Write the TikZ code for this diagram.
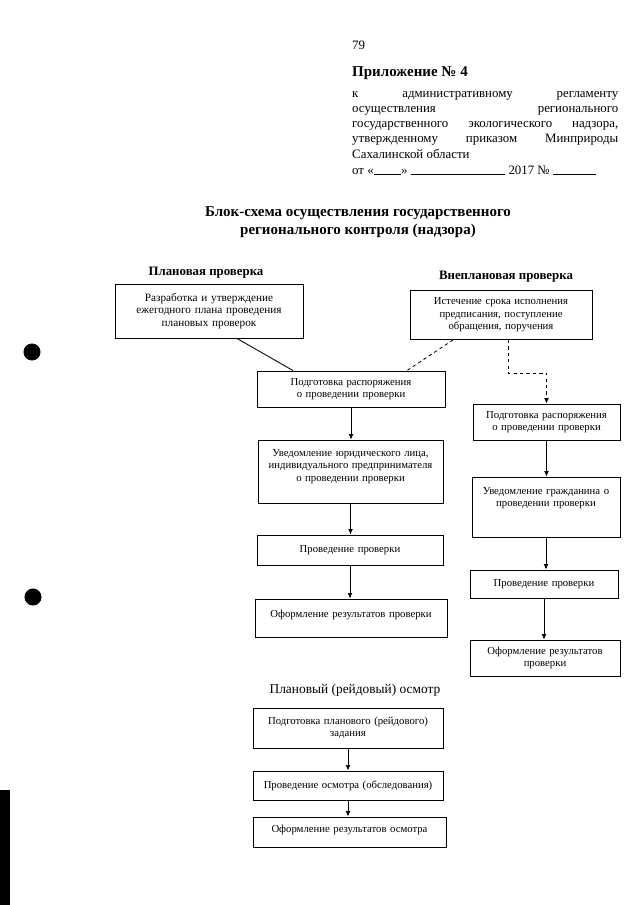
\documentclass[tikz,border=0pt]{standalone}
\usepackage{fontspec}
\setmainfont{Liberation Serif}
\usepackage{tikz}
\usetikzlibrary{arrows.meta}
\newcommand\pxu{0.328mm}

\begin{document}
\begin{tikzpicture} [x=0.328mm, y=-0.328mm, every node/.style={inner sep=0pt}]
\tikzstyle{box}=[draw, line width=0.9pt, align=center, font=\fontsize{10}{11.6}\selectfont]
\tikzstyle{head}=[font=\bfseries\fontsize{12}{14}\selectfont]
\tikzstyle{link}=[line width=0.8pt]
\tikzstyle{tip}=[-{Latex[length=5pt,width=4.5pt]}]
\useasboundingbox (0,0) rectangle (640,905);

\node [anchor=west, font=\fontsize{12}{14}\selectfont] (page) at (352,45) {79};
\node [anchor=west, font=\bfseries\fontsize{14}{16}\selectfont] (app) at (352,73) {Приложение № 4};
\node [anchor=north west, text width=266*\pxu, align=justify, font=\fontsize{12}{14.2}\selectfont] (regl) at (352,91)
  {к административному регламенту\linebreak
   осуществления регионального\linebreak
   государственного экологического надзора,\linebreak
   утвержденному приказом Минприроды\linebreak
   Сахалинской области};
\node [anchor=west, font=\fontsize{12}{14}\selectfont] (date) at (352,170)
  {от «\rule{0.9cm}{0.4pt}» \rule{3.1cm}{0.4pt} 2017 № \rule{1.4cm}{0.4pt}};

\node [align=center, font=\bfseries\fontsize{14}{16.6}\selectfont] (title) at (358,222)
  {Блок-схема осуществления государственного\\ регионального контроля (надзора)};

\node [head] (planhead) at (206,273) {Плановая проверка};
\node [head] (unplanhead) at (506,277) {Внеплановая проверка};

\node [box, minimum width=188*\pxu, minimum height=54*\pxu, text width=180*\pxu, font=\fontsize{10.5}{11.8}\selectfont] (plan) at (209,311)
  {Разработка и утверждение\\ ежегодного плана проведения\\ плановых проверок};
\node [box, minimum width=182*\pxu, minimum height=49*\pxu, text width=176*\pxu] (unplan) at (501,315)
  {Истечение срока исполнения\\ предписания, поступление\\ обращения, поручения};

\node [box, minimum width=188*\pxu, minimum height=36*\pxu, text width=180*\pxu] (prepL) at (351,389)
  {Подготовка распоряжения\\ о проведении проверки};
\node [box, minimum width=185*\pxu, minimum height=63*\pxu, text width=180*\pxu] (notifyL) at (350.5,471.5)
  {Уведомление юридического лица,\\ индивидуального предпринимателя\\ о проведении проверки\\ \mbox{}};
\node [box, minimum width=186*\pxu, minimum height=30*\pxu, text width=180*\pxu] (conductL) at (350,550)
  {Проведение проверки};
\node [box, minimum width=192*\pxu, minimum height=38*\pxu, text width=186*\pxu] (resultL) at (351,618)
  {Оформление результатов проверки\\[-4pt] \mbox{}};

\node [box, minimum width=147*\pxu, minimum height=36*\pxu, text width=141*\pxu] (prepR) at (546.5,422)
  {Подготовка распоряжения\\ о проведении проверки};
\node [box, minimum width=148*\pxu, minimum height=60*\pxu, text width=142*\pxu] (citizen) at (546,507)
  {Уведомление гражданина о\\ проведении проверки\\[7pt] \mbox{}};
\node [box, minimum width=148*\pxu, minimum height=28*\pxu, text width=142*\pxu] (conductR) at (544,584)
  {Проведение проверки};
\node [box, minimum width=150*\pxu, minimum height=36*\pxu, text width=144*\pxu] (resultR) at (545,658)
  {Оформление результатов\\ проверки};

\node [font=\fontsize{12.5}{14}\selectfont] (raidhead) at (355,690) {Плановый (рейдовый) осмотр};
\node [box, minimum width=190*\pxu, minimum height=40*\pxu, text width=184*\pxu] (task) at (348,728)
  {Подготовка планового (рейдового)\\ задания};
\node [box, minimum width=190*\pxu, minimum height=29*\pxu, text width=184*\pxu] (inspect) at (348,785.5)
  {Проведение осмотра (обследования)};
\node [box, minimum width=193*\pxu, minimum height=30*\pxu, text width=186*\pxu] (report) at (349.5,832)
  {Оформление результатов осмотра\\[-6pt] \mbox{}};

\draw [link] ([xshift=28*\pxu]plan.south) -- ([xshift=-58*\pxu]prepL.north);
\draw [link, dashed] ([xshift=-48*\pxu]unplan.south) -- ([xshift=56*\pxu]prepL.north);
\draw [link, dashed, tip] ([xshift=7*\pxu]unplan.south) -- ++(0,33) -| (prepR.north);

\draw [link, tip] (prepL.south) -- (prepL.south |- notifyL.north);
\draw [link, tip] (notifyL.south) -- (notifyL.south |- conductL.north);
\draw [link, tip] (conductL.south) -- (conductL.south |- resultL.north);

\draw [link, tip] (prepR.south) -- (prepR.south |- citizen.north);
\draw [link, tip] (citizen.south) -- (citizen.south |- conductR.north);
\draw [link, tip] (conductR.south) -- (conductR.south |- resultR.north);

\draw [link, tip] (task.south) -- (task.south |- inspect.north);
\draw [link, tip] (inspect.south) -- (inspect.south |- report.north);

\fill (32,352) circle [radius=2.8mm];
\fill (33,597) circle [radius=2.8mm];
\fill (0,790) rectangle (10,905);
\end{tikzpicture}
\end{document}
